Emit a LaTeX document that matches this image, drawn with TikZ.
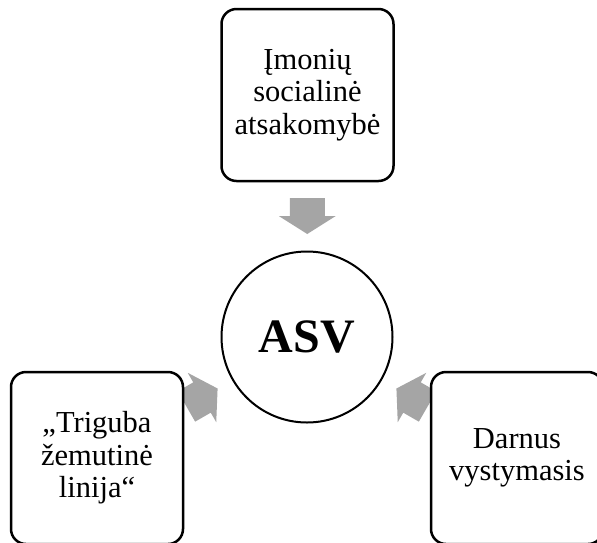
\documentclass[tikz,border=0pt]{standalone}
\usepackage{fontspec}
\setmainfont{Liberation Serif}
\usetikzlibrary{calc,backgrounds}

\definecolor{arrowgray}{RGB}{165,165,165}
\tikzset{
  pics/rodykle/.style={code={
    \fill[arrowgray] (-18,-17.5) -- (0,-17.5) -- (0,-28.5) -- (18,0)
      -- (0,28.5) -- (0,17.5) -- (-18,17.5) -- cycle;
  }}
}

\begin{document}
\begin{tikzpicture}[x=1pt, y=-1pt,
    dezute/.style={draw, line width=2.5pt, rounded corners=15pt, fill=white,
      minimum width=172pt, minimum height=172pt, align=center,
      font=\fontsize{30.5}{32.5}\selectfont},
    ratas/.style={draw, circle, line width=2pt, fill=white, inner sep=0pt,
      minimum size=171pt, font=\fontsize{48}{48}\selectfont\bfseries}]
   \useasboundingbox (0,0) rectangle (597,542);

   \node[ratas] (asv) at (307,337) {ASV};
   \node[dezute] (imones) at (307.5,95) {Įmonių\\socialinė\\atsakomybė};
   \node[dezute] (triguba) at (97,458) {„Triguba\\žemutinė\\linija“};
   \node[dezute] (darnus) at (517,458) {Darnus\\vystymasis};

   \begin{scope}[on background layer]
     \pic[rotate=-90] at ($(imones)!.5!(asv)$) {rodykle};
     \pic[rotate=30] at ($(triguba)!.5!(asv)$) {rodykle};
     \pic[rotate=150] at ($(darnus)!.5!(asv)$) {rodykle};
   \end{scope}
\end{tikzpicture}
\end{document}
